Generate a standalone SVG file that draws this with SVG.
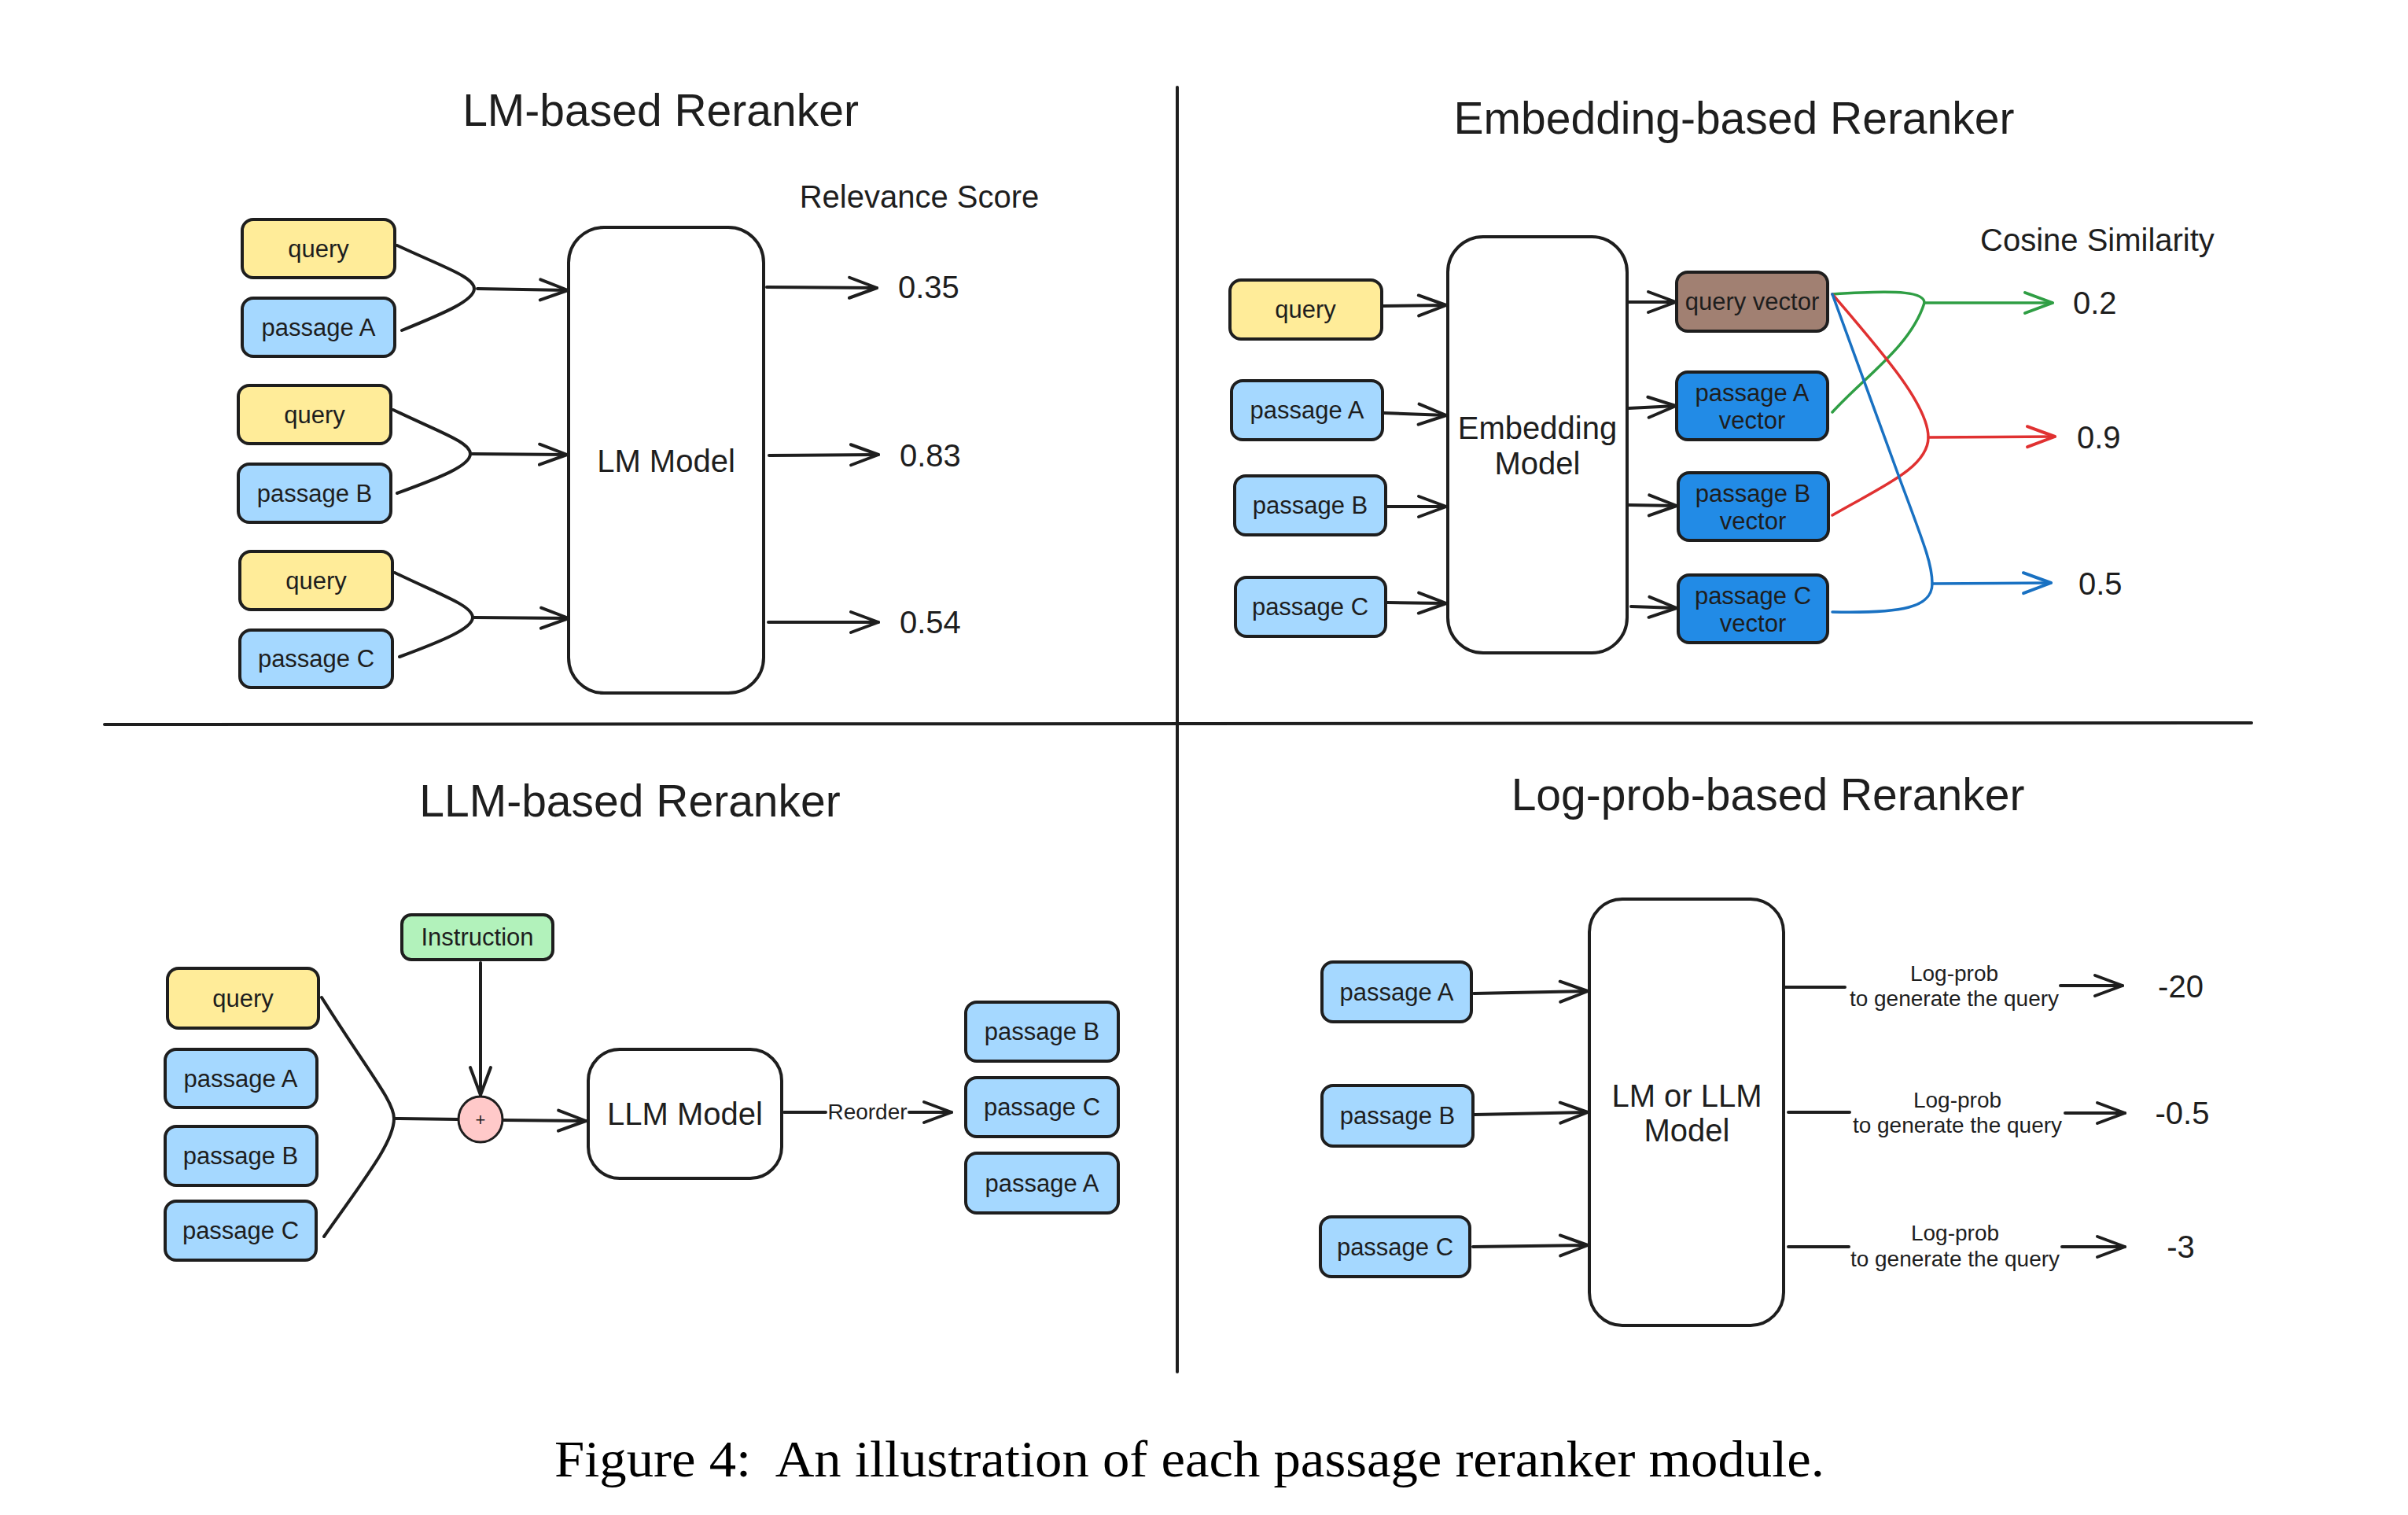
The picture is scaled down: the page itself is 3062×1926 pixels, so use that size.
<svg xmlns="http://www.w3.org/2000/svg" width="3062" height="1926" viewBox="0 0 3062 1926">
<defs>
<style>
.box{stroke:#1e1e1e;stroke-width:4;stroke-linejoin:round}
.q{fill:#ffec99}.p{fill:#a5d8ff}.v{fill:#228be6}.qv{fill:#a18072}.ins{fill:#b2f2bb}.m{fill:#ffffff}
.lbl{font-family:"Liberation Sans",Arial,sans-serif;font-size:31px;fill:#1e1e1e;text-anchor:middle}
.big{font-family:"Liberation Sans",Arial,sans-serif;font-size:40px;fill:#1e1e1e}
.mid{text-anchor:middle}
.title{font-family:"Liberation Sans",Arial,sans-serif;font-size:57px;fill:#1e1e1e;text-anchor:middle}
.small{font-family:"Liberation Sans",Arial,sans-serif;font-size:28px;fill:#1e1e1e;text-anchor:middle}
.ln{fill:none;stroke:#1e1e1e;stroke-width:4;stroke-linecap:round}
.g{stroke:#2f9e44}.r{stroke:#e03131}.b{stroke:#1971c2}
.cl{fill:none;stroke-width:3.5;stroke-linecap:round}
</style>
<marker id="ak" markerUnits="userSpaceOnUse" markerWidth="42" markerHeight="32" viewBox="0 0 42 32" refX="38" refY="16" orient="auto"><path d="M3,3 L38,16 L3,29" fill="none" stroke="#1e1e1e" stroke-width="4" stroke-linecap="round" stroke-linejoin="round"/></marker>
<marker id="ag" markerUnits="userSpaceOnUse" markerWidth="42" markerHeight="32" viewBox="0 0 42 32" refX="38" refY="16" orient="auto"><path d="M3,3 L38,16 L3,29" fill="none" stroke="#2f9e44" stroke-width="4" stroke-linecap="round" stroke-linejoin="round"/></marker>
<marker id="ar" markerUnits="userSpaceOnUse" markerWidth="42" markerHeight="32" viewBox="0 0 42 32" refX="38" refY="16" orient="auto"><path d="M3,3 L38,16 L3,29" fill="none" stroke="#e03131" stroke-width="4" stroke-linecap="round" stroke-linejoin="round"/></marker>
<marker id="ab" markerUnits="userSpaceOnUse" markerWidth="42" markerHeight="32" viewBox="0 0 42 32" refX="38" refY="16" orient="auto"><path d="M3,3 L38,16 L3,29" fill="none" stroke="#1971c2" stroke-width="4" stroke-linecap="round" stroke-linejoin="round"/></marker>
</defs>
<rect width="3062" height="1926" fill="#ffffff"/>

<g id="dividers" stroke="#1e1e1e" stroke-width="4" stroke-linecap="round">
<line x1="1497" y1="111" x2="1497" y2="1744"/>
<line x1="133" y1="921" x2="2863" y2="919"/>
</g>

<g id="titles">
<text class="title" x="840" y="160">LM-based Reranker</text>
<text class="title" x="2205" y="170">Embedding-based Reranker</text>
<text class="title" x="801" y="1038">LLM-based Reranker</text>
<text class="title" x="2248" y="1030">Log-prob-based Reranker</text>
</g>

<!-- Top-left: LM-based -->
<g id="lm-query1"><rect class="box q" x="308" y="279" width="194" height="74" rx="14"/><text class="lbl" x="405" y="327">query</text></g>
<g id="lm-passageA"><rect class="box p" x="308" y="379" width="194" height="74" rx="14"/><text class="lbl" x="405" y="427">passage A</text></g>
<g id="lm-query2"><rect class="box q" x="303" y="490" width="194" height="74" rx="14"/><text class="lbl" x="400" y="538">query</text></g>
<g id="lm-passageB"><rect class="box p" x="303" y="590" width="194" height="74" rx="14"/><text class="lbl" x="400" y="638">passage B</text></g>
<g id="lm-query3"><rect class="box q" x="305" y="701" width="194" height="74" rx="14"/><text class="lbl" x="402" y="749">query</text></g>
<g id="lm-passageC"><rect class="box p" x="305" y="801" width="194" height="73" rx="14"/><text class="lbl" x="402" y="848">passage C</text></g>
<g id="lm-model"><rect class="box m" x="723" y="289" width="248" height="592" rx="45"/><text class="big mid" x="847" y="600">LM Model</text></g>
<g id="lm-scores">
<text class="big mid" x="1169" y="264">Relevance Score</text>
<text class="big" x="1142" y="379">0.35</text>
<text class="big" x="1144" y="593">0.83</text>
<text class="big" x="1144" y="805">0.54</text>
</g>

<!-- Top-right: Embedding-based -->
<g id="emb-query"><rect class="box q" x="1564" y="356" width="193" height="75" rx="14"/><text class="lbl" x="1660" y="404">query</text></g>
<g id="emb-passageA"><rect class="box p" x="1566" y="484" width="192" height="75" rx="14"/><text class="lbl" x="1662" y="532">passage A</text></g>
<g id="emb-passageB"><rect class="box p" x="1570" y="605" width="192" height="75" rx="14"/><text class="lbl" x="1666" y="653">passage B</text></g>
<g id="emb-passageC"><rect class="box p" x="1571" y="734" width="191" height="75" rx="14"/><text class="lbl" x="1666" y="782">passage C</text></g>
<g id="emb-model"><rect class="box m" x="1841" y="301" width="228" height="529" rx="45"/><text class="big mid" x="1955" y="558">Embedding</text><text class="big mid" x="1955" y="603">Model</text></g>
<g id="emb-queryvec"><rect class="box qv" x="2132" y="346" width="192" height="75" rx="14"/><text class="lbl" x="2228" y="394">query vector</text></g>
<g id="emb-passageAvec"><rect class="box v" x="2132" y="473" width="192" height="86" rx="14"/><text class="lbl" x="2228" y="510">passage A</text><text class="lbl" x="2228" y="545">vector</text></g>
<g id="emb-passageBvec"><rect class="box v" x="2134" y="601" width="191" height="86" rx="14"/><text class="lbl" x="2229" y="638">passage B</text><text class="lbl" x="2229" y="673">vector</text></g>
<g id="emb-passageCvec"><rect class="box v" x="2134" y="731" width="190" height="86" rx="14"/><text class="lbl" x="2229" y="768">passage C</text><text class="lbl" x="2229" y="803">vector</text></g>
<g id="emb-scores">
<text class="big" x="2518" y="319">Cosine Similarity</text>
<text class="big" x="2636" y="399">0.2</text>
<text class="big" x="2641" y="570">0.9</text>
<text class="big" x="2643" y="756">0.5</text>
</g>

<!-- Bottom-left: LLM-based -->
<g id="llm-query"><rect class="box q" x="213" y="1231" width="192" height="76" rx="14"/><text class="lbl" x="309" y="1280">query</text></g>
<g id="llm-passageA"><rect class="box p" x="210" y="1334" width="193" height="74" rx="14"/><text class="lbl" x="306" y="1382">passage A</text></g>
<g id="llm-passageB"><rect class="box p" x="210" y="1432" width="193" height="75" rx="14"/><text class="lbl" x="306" y="1480">passage B</text></g>
<g id="llm-passageC"><rect class="box p" x="210" y="1527" width="192" height="75" rx="14"/><text class="lbl" x="306" y="1575">passage C</text></g>
<g id="llm-instruction"><rect class="box ins" x="511" y="1163" width="192" height="57" rx="12"/><text class="lbl" x="607" y="1202">Instruction</text></g>
<g id="llm-plus"><ellipse cx="611" cy="1423" rx="28" ry="29" fill="#ffc9c9" stroke="#1e1e1e" stroke-width="3"/><text x="611" y="1431" font-family="Liberation Sans, Arial, sans-serif" font-size="22" fill="#1e1e1e" text-anchor="middle">+</text></g>
<g id="llm-model"><rect class="box m" x="748" y="1334" width="246" height="164" rx="40"/><text class="big mid" x="871" y="1430">LLM Model</text></g>
<g id="llm-outB"><rect class="box p" x="1228" y="1274" width="194" height="75" rx="14"/><text class="lbl" x="1325" y="1322">passage B</text></g>
<g id="llm-outC"><rect class="box p" x="1228" y="1370" width="194" height="75" rx="14"/><text class="lbl" x="1325" y="1418">passage C</text></g>
<g id="llm-outA"><rect class="box p" x="1228" y="1466" width="194" height="76" rx="14"/><text class="lbl" x="1325" y="1515">passage A</text></g>

<!-- Bottom-right: Log-prob-based -->
<g id="lp-passageA"><rect class="box p" x="1681" y="1223" width="190" height="76" rx="14"/><text class="lbl" x="1776" y="1272">passage A</text></g>
<g id="lp-passageB"><rect class="box p" x="1681" y="1380" width="192" height="77" rx="14"/><text class="lbl" x="1777" y="1429">passage B</text></g>
<g id="lp-passageC"><rect class="box p" x="1679" y="1547" width="190" height="76" rx="14"/><text class="lbl" x="1774" y="1596">passage C</text></g>
<g id="lp-model"><rect class="box m" x="2021" y="1143" width="247" height="542" rx="42"/><text class="big mid" x="2145" y="1407">LM or LLM</text><text class="big mid" x="2145" y="1451">Model</text></g>
<g id="lp-labels">
<text class="small" x="2485" y="1247">Log-prob</text><text class="small" x="2485" y="1279">to generate the query</text>
<text class="small" x="2489" y="1408">Log-prob</text><text class="small" x="2489" y="1440">to generate the query</text>
<text class="small" x="2486" y="1577">Log-prob</text><text class="small" x="2486" y="1610">to generate the query</text>
<text class="big mid" x="2773" y="1268">-20</text>
<text class="big mid" x="2775" y="1429">-0.5</text>
<text class="big mid" x="2773" y="1599">-3</text>
</g>

<g id="connectors">
<!-- LM-based -->
<path class="ln" d="M505,312 C565,340 603,352 603,367 C603,382 565,398 511,420"/>
<path class="ln" d="M607,367 L722,369" marker-end="url(#ak)"/>
<path class="ln" d="M500,521 C560,550 598,562 598,577 C598,592 560,607 505,627"/>
<path class="ln" d="M600,577 L721,578" marker-end="url(#ak)"/>
<path class="ln" d="M502,728 C562,757 601,770 601,785 C601,799 562,815 508,835"/>
<path class="ln" d="M603,785 L723,786" marker-end="url(#ak)"/>
<path class="ln" d="M975,365 L1115,366" marker-end="url(#ak)"/>
<path class="ln" d="M978,579 L1117,578" marker-end="url(#ak)"/>
<path class="ln" d="M977,791 L1117,791" marker-end="url(#ak)"/>
<!-- Embedding-based -->
<path class="ln" d="M1759,389 L1839,388" marker-end="url(#ak)"/>
<path class="ln" d="M1760,525 L1839,528" marker-end="url(#ak)"/>
<path class="ln" d="M1764,644 L1839,644" marker-end="url(#ak)"/>
<path class="ln" d="M1764,766 L1839,767" marker-end="url(#ak)"/>
<path class="ln" d="M2071,384 L2131,384" marker-end="url(#ak)"/>
<path class="ln" d="M2071,519 L2131,516" marker-end="url(#ak)"/>
<path class="ln" d="M2071,642 L2132,643" marker-end="url(#ak)"/>
<path class="ln" d="M2074,771 L2132,773" marker-end="url(#ak)"/>
<path class="cl g" d="M2330,374 C2420,368 2447,372 2447,385 C2430,440 2370,480 2330,524"/>
<path class="cl g" d="M2447,385 L2610,385" marker-end="url(#ag)"/>
<path class="cl r" d="M2330,374 C2395,450 2452,515 2452,556 C2452,595 2390,620 2330,655"/>
<path class="cl r" d="M2452,556 L2613,555" marker-end="url(#ar)"/>
<path class="cl b" d="M2330,374 L2418,615 C2450,700 2457,720 2457,742 C2457,772 2420,780 2330,778"/>
<path class="cl b" d="M2457,742 L2608,741" marker-end="url(#ab)"/>
<!-- LLM-based -->
<path class="ln" d="M409,1268 C470,1365 501,1400 501,1422 C501,1450 470,1490 412,1572"/>
<path class="ln" d="M501,1422 L582,1423"/>
<path class="ln" d="M611,1224 L611,1392" marker-end="url(#ak)"/>
<path class="ln" d="M640,1424 L745,1425" marker-end="url(#ak)"/>
<path class="ln" d="M997,1414 L1050,1414"/>
<text class="small" x="1103" y="1423">Reorder</text>
<path class="ln" d="M1156,1414 L1210,1414" marker-end="url(#ak)"/>
<!-- Log-prob-based -->
<path class="ln" d="M1874,1263 L2019,1260" marker-end="url(#ak)"/>
<path class="ln" d="M1875,1417 L2019,1414" marker-end="url(#ak)"/>
<path class="ln" d="M1873,1585 L2019,1583" marker-end="url(#ak)"/>
<path class="ln" d="M2270,1255 L2346,1255" stroke-width="5"/>
<path class="ln" d="M2620,1253 L2699,1253" stroke-width="5" marker-end="url(#ak)"/>
<path class="ln" d="M2274,1414 L2352,1414" stroke-width="5"/>
<path class="ln" d="M2626,1415 L2702,1415" stroke-width="5" marker-end="url(#ak)"/>
<path class="ln" d="M2274,1585 L2351,1585" stroke-width="5"/>
<path class="ln" d="M2622,1585 L2702,1585" stroke-width="5" marker-end="url(#ak)"/>
</g>

<text id="caption" x="705" y="1877" font-family="Liberation Serif, 'Times New Roman', serif" font-size="66" fill="#000000" textLength="1615" lengthAdjust="spacingAndGlyphs">Figure 4:&#160; An illustration of each passage reranker module.</text>
</svg>
